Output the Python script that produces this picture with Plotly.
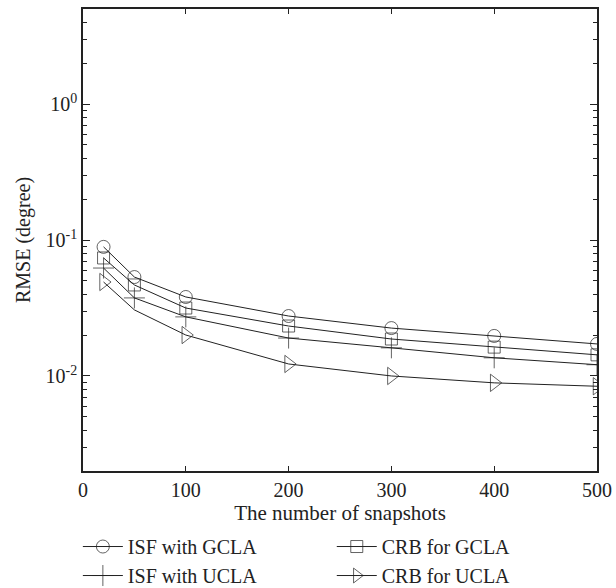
import plotly.graph_objects as go

snapshots = [20, 50, 100, 200, 300, 400, 500]
isf_gcla = [0.089, 0.0534, 0.0381, 0.0276, 0.0225, 0.0197, 0.0172]
crb_gcla = [0.0738, 0.0467, 0.0316, 0.0233, 0.0187, 0.0163, 0.0143]
isf_ucla = [0.0622, 0.0375, 0.0272, 0.019, 0.0161, 0.0136, 0.0121]
crb_ucla = [0.0491, 0.0306, 0.0200, 0.01225, 0.0100, 0.0089, 0.0084]

x_ticks = [0, 100, 200, 300, 400, 500]
y_tickvals = [0.01, 0.1, 1]
y_ticktext = ["10<sup>-2</sup>", "10<sup>-1</sup>", "10<sup>0</sup>"]

ink = "#222222"
font = "Liberation Serif"
fs = 20

series = [
    ("ISF with GCLA", isf_gcla, "circle-open", "legend", [13] * 7),
    ("CRB for GCLA", crb_gcla, "square-open", "legend2", [12] * 7),
    ("ISF with UCLA", isf_ucla, "cross-thin-open", "legend", [15] * 7),
    ("CRB for UCLA", crb_ucla, "triangle-right-open", "legend2", [15, 0, 15, 15, 15, 15, 15]),
]

fig = go.Figure()
for name, vals, sym, leg, sizes in series:
    fig.add_trace(go.Scatter(
        x=snapshots, y=vals, name=name, mode="lines+markers",
        line=dict(color=ink, width=1),
        marker=dict(symbol=sym, size=sizes, color=ink, line=dict(color=ink, width=1)),
        legend=leg,
    ))

axis_common = dict(
    showline=True, linecolor=ink, linewidth=1.5, mirror="allticks",
    ticks="inside", tickcolor=ink, showgrid=False, zeroline=False, automargin=False,
    ticklabeloverflow="allow",
    tickfont=dict(family=font, size=fs, color=ink),
)

leg_common = dict(
    yref="container", y=0.1037, xanchor="left", yanchor="top",
    bgcolor="rgba(0,0,0,0)", font=dict(family=font, size=fs, color=ink),
    itemwidth=40, tracegroupgap=0,
)

fig.update_layout(
    width=616, height=588,
    margin=dict(l=83, r=19, t=9, b=117),
    plot_bgcolor="white", paper_bgcolor="white",
    font=dict(family=font, size=fs, color=ink),
    xaxis=dict(range=[0, 500], tickvals=x_ticks, ticklen=5,
               title=dict(text="The number of snapshots", standoff=1,
                          font=dict(family=font, size=21, color=ink)),
               **axis_common),
    yaxis=dict(type="log", range=[-2.69897, 0.69897],
               tickvals=y_tickvals, ticktext=y_ticktext, ticklen=7,
               minor=dict(ticks="inside", ticklen=4, tickcolor=ink, dtick="D1", showgrid=False),
               title=dict(text="RMSE (degree)", standoff=10,
                          font=dict(family=font, size=fs, color=ink)),
               **axis_common),
    legend=dict(x=-0.01, **leg_common),
    legend2=dict(x=0.484, **leg_common),
    showlegend=True,
)

fig.write_html(
    "out.html",
    config={"displayModeBar": False},
    post_script="document.body.style.margin='0';document.body.style.overflow='hidden';",
)
